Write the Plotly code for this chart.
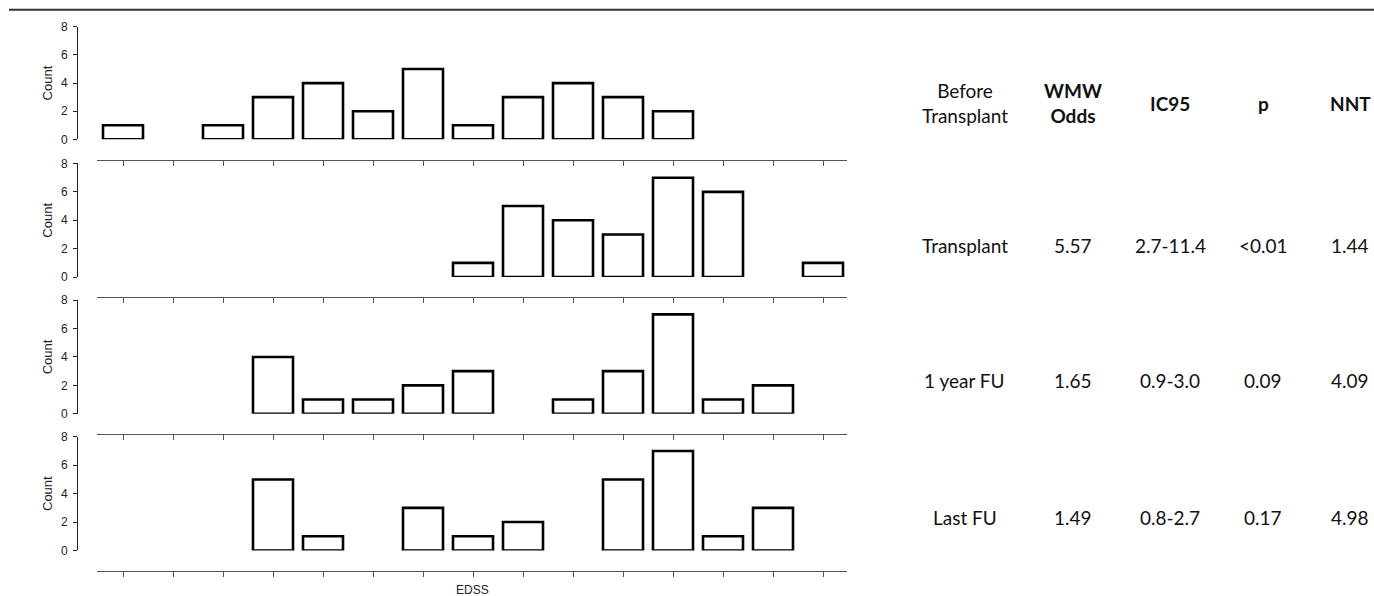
import plotly.graph_objects as go

W, H = 1374, 606

# ---- data ----
edss_levels = ["0", "1", "1.5", "2", "2.5", "3", "3.5", "4", "4.5", "5", "5.5", "6", "6.5", "7", "7.5"]
before_transplant = [1, 0, 1, 3, 4, 2, 5, 1, 3, 4, 3, 2, 0, 0, 0]
transplant = [0, 0, 0, 0, 0, 0, 0, 1, 5, 4, 3, 7, 6, 0, 1]
one_year_fu = [0, 0, 0, 4, 1, 1, 2, 3, 0, 1, 3, 7, 1, 2, 0]
last_fu = [0, 0, 0, 5, 1, 0, 3, 1, 2, 0, 5, 7, 1, 3, 0]
panels = [before_transplant, transplant, one_year_fu, last_fu]

table_header = ["Before<br>Transplant", "<b>WMW<br>Odds</b>", "<b>IC95</b>", "<b>p</b>", "<b>NNT</b>"]
row_labels = ["Transplant", "1 year FU", "Last FU"]
wmw_odds = ["5.57", "1.65", "1.49"]
ic95 = ["2.7-11.4", "0.9-3.0", "0.8-2.7"]
p_values = ["<0.01", "0.09", "0.17"]
nnt = ["1.44", "4.09", "4.98"]

# vertical calibration of the capture (measured from earlier renders)
Y_OFF, Y_SCALE = 7.3, 0.972


def px(x):
    return x / W


def py(y):
    return 1 - ((y - Y_OFF) / Y_SCALE) / H


zero_y = [139, 276, 412, 548]
eight_y = [27, 163, 299, 435]
xline_y = [160, 296, 432, 568]
x_left, x_right = 97, 847
yaxis_x = 77

axis_font = dict(family="Liberation Sans, Arial", size=12, color="#222")

fig = go.Figure()
idx = list(range(len(edss_levels)))
for i, counts in enumerate(panels):
    sfx = "" if i == 0 else str(i + 1)
    xs = [k for k, c in zip(idx, counts) if c > 0]
    ys = [c for c in counts if c > 0]
    fig.add_trace(go.Bar(
        x=xs, y=ys, xaxis="x" + sfx, yaxis="y" + sfx,
        width=0.8,
        marker=dict(color="white", line=dict(color="black", width=2.6)),
        showlegend=False, hoverinfo="x+y",
    ))
    fig.layout["xaxis" + sfx] = dict(
        domain=[px(x_left), px(x_right)],
        range=[-0.52, 14.48],
        anchor="free", position=py(xline_y[i]),
        showline=True, linecolor="#555", linewidth=1,
        ticks="outside", ticklen=5, tickcolor="#555", tickwidth=1,
        tickmode="array", tickvals=idx, ticktext=edss_levels,
        showticklabels=False, showgrid=False, zeroline=False,
        fixedrange=True,
    )
    fig.layout["yaxis" + sfx] = dict(
        domain=[py(zero_y[i]), py(eight_y[i])],
        range=[0, 8],
        anchor="free", position=px(yaxis_x),
        showline=True, linecolor="#222", linewidth=1,
        ticks="outside", ticklen=4, tickcolor="#222",
        ticklabelstandoff=3,
        tickvals=[0, 2, 4, 6, 8],
        tickfont=axis_font,
        title=dict(text="Count", standoff=4,
                   font=dict(family="Liberation Sans, Arial", size=13, color="#222")),
        showgrid=False, zeroline=False, fixedrange=True,
    )

annotations = []
annotations.append(dict(x=px(472), y=py(587), xref="paper", yref="paper", text="EDSS",
                        xanchor="center", yanchor="middle", showarrow=False,
                        font=dict(family="Liberation Sans, Arial", size=12, color="#222")))

col_x = [965, 1073, 1170, 1263, 1350]
tfont = dict(family="Lato, Open Sans, sans-serif", size=19, color="#111")
for cx, t in zip(col_x, table_header):
    annotations.append(dict(x=px(cx), y=py(103), xref="paper", yref="paper", text=t,
                            xanchor="center", yanchor="middle",
                            showarrow=False, font=tfont, align="center"))
row_y = [245, 379, 515]
for r in range(3):
    vals = [row_labels[r], wmw_odds[r], ic95[r], p_values[r], nnt[r]]
    for cx, t in zip(col_x, vals):
        annotations.append(dict(x=px(cx), y=py(row_y[r]), xref="paper", yref="paper", text=t,
                                xanchor="center", yanchor="middle",
                                showarrow=False, font=tfont, align="center"))

fig.update_layout(
    width=W, height=H,
    margin=dict(l=0, r=0, t=0, b=0),
    paper_bgcolor="white", plot_bgcolor="white",
    annotations=annotations,
    shapes=[dict(type="line", xref="paper", yref="paper", x0=px(9), x1=1, y0=py(10), y1=py(10),
                 line=dict(color="#333", width=2))],
)

# pin the figure to the window's top-left corner (no page margin, no scrolling)
page_fix = (
    "document.documentElement.style.margin='0';document.body.style.margin='0';"
    "document.documentElement.style.overflow='hidden';document.body.style.overflow='hidden';"
    "var gd=document.getElementById('{plot_id}');"
    "gd.style.position='fixed';gd.style.top='0px';gd.style.left='0px';"
)

fig.write_html("out.html", post_script=page_fix, config={"displayModeBar": False})
